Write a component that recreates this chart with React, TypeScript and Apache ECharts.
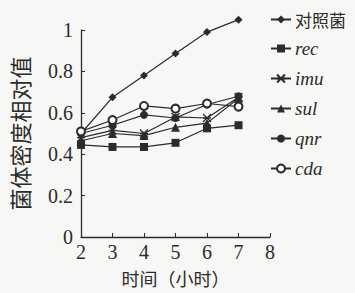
import React, { useEffect, useRef } from "react";
import * as echarts from "echarts";

const hours = [2, 3, 4, 5, 6, 7];
const seriesNames = ["对照菌", "rec", "imu", "sul", "qnr", "cda"];
const control = [0.5, 0.675, 0.78, 0.887, 0.99, 1.05];
const rec = [0.445, 0.435, 0.435, 0.455, 0.525, 0.54];
const imu = [0.48, 0.515, 0.5, 0.58, 0.575, 0.675];
const sul = [0.465, 0.5, 0.49, 0.53, 0.55, 0.67];
const qnr = [0.5, 0.54, 0.59, 0.575, 0.64, 0.68];
const cda = [0.51, 0.565, 0.633, 0.62, 0.645, 0.63];
const yTicks = [0, 0.2, 0.4, 0.6, 0.8, 1];

const INK = "#2b2b2b";
const BG = "#f7f7f5";
const SERIF = "Liberation Serif";
const CJK = "Noto Sans CJK SC";

export default function App() {
  const ref = useRef<HTMLDivElement>(null);
  useEffect(() => {
    if (!ref.current) return;
    const chart = echarts.init(ref.current, null, { renderer: "svg" });
    const data = [control, rec, imu, sul, qnr, cda];
    const symbols = [
      "diamond",
      "rect",
      "path://M0,0L10,10M10,0L0,10M0,5L10,5",
      "triangle",
      "circle",
      "emptyCircle",
    ];
    const sizes = [8, 8, 8, 9, 8, 8];
    chart.setOption({
      animation: false,
      backgroundColor: BG,
      grid: { left: 81, right: 85, top: 30, bottom: 56 },
      legend: {
        orient: "vertical",
        left: 265,
        top: 6,
        itemWidth: 20,
        itemHeight: 10,
        itemGap: 11,
        data: seriesNames,
        formatter: (n: string) => (n === "对照菌" ? `{cn|${n}}` : `{en|${n}}`),
        textStyle: {
          color: INK,
          padding: [0, 0, 0, -1],
          rich: {
            cn: { fontFamily: CJK, fontSize: 17, color: INK, lineHeight: 20 },
            en: { fontFamily: SERIF, fontSize: 19, fontStyle: "italic", color: INK, lineHeight: 20 },
          },
        },
      },
      xAxis: {
        type: "value",
        min: 2,
        max: 8,
        interval: 1,
        name: "时间（小时）",
        nameLocation: "middle",
        nameGap: 32,
        nameTextStyle: { fontFamily: CJK, fontSize: 18, color: INK },
        axisLine: { lineStyle: { color: INK, width: 1.3 } },
        axisTick: { inside: true, length: 4, lineStyle: { color: INK } },
        axisLabel: { fontFamily: SERIF, fontSize: 20, color: INK, margin: 5 },
        splitLine: { show: false },
      },
      yAxis: {
        type: "value",
        min: 0,
        max: 1,
        interval: 0.2,
        name: "菌体密度相对值",
        nameLocation: "middle",
        nameRotate: 90,
        nameGap: 51,
        nameTextStyle: { fontFamily: CJK, fontSize: 22, color: INK },
        axisLine: { show: true, lineStyle: { color: INK, width: 1.3 } },
        axisTick: { show: true, inside: true, length: 4, lineStyle: { color: INK } },
        axisLabel: {
          fontFamily: SERIF,
          fontSize: 20,
          color: INK,
          margin: 8,
          formatter: (v: number) => (yTicks.includes(v) ? String(v) : ""),
        },
        splitLine: { show: false },
      },
      series: seriesNames.map((name, i) => ({
        name,
        type: "line",
        data: hours.map((h, j) => [h, data[i][j]]),
        symbol: symbols[i],
        symbolSize: sizes[i],
        showAllSymbol: true,
        clip: false,
        lineStyle: { color: INK, width: 1.2 },
        itemStyle: {
          color: INK,
          borderColor: INK,
          borderWidth: i === 2 || i === 5 ? 1.3 : 0,
        },
      })),
    });
    return () => chart.dispose();
  }, []);
  return (
    <div
      ref={ref}
      style={{ position: "fixed", left: 0, top: 0, width: 355, height: 293 }}
    />
  );
}
